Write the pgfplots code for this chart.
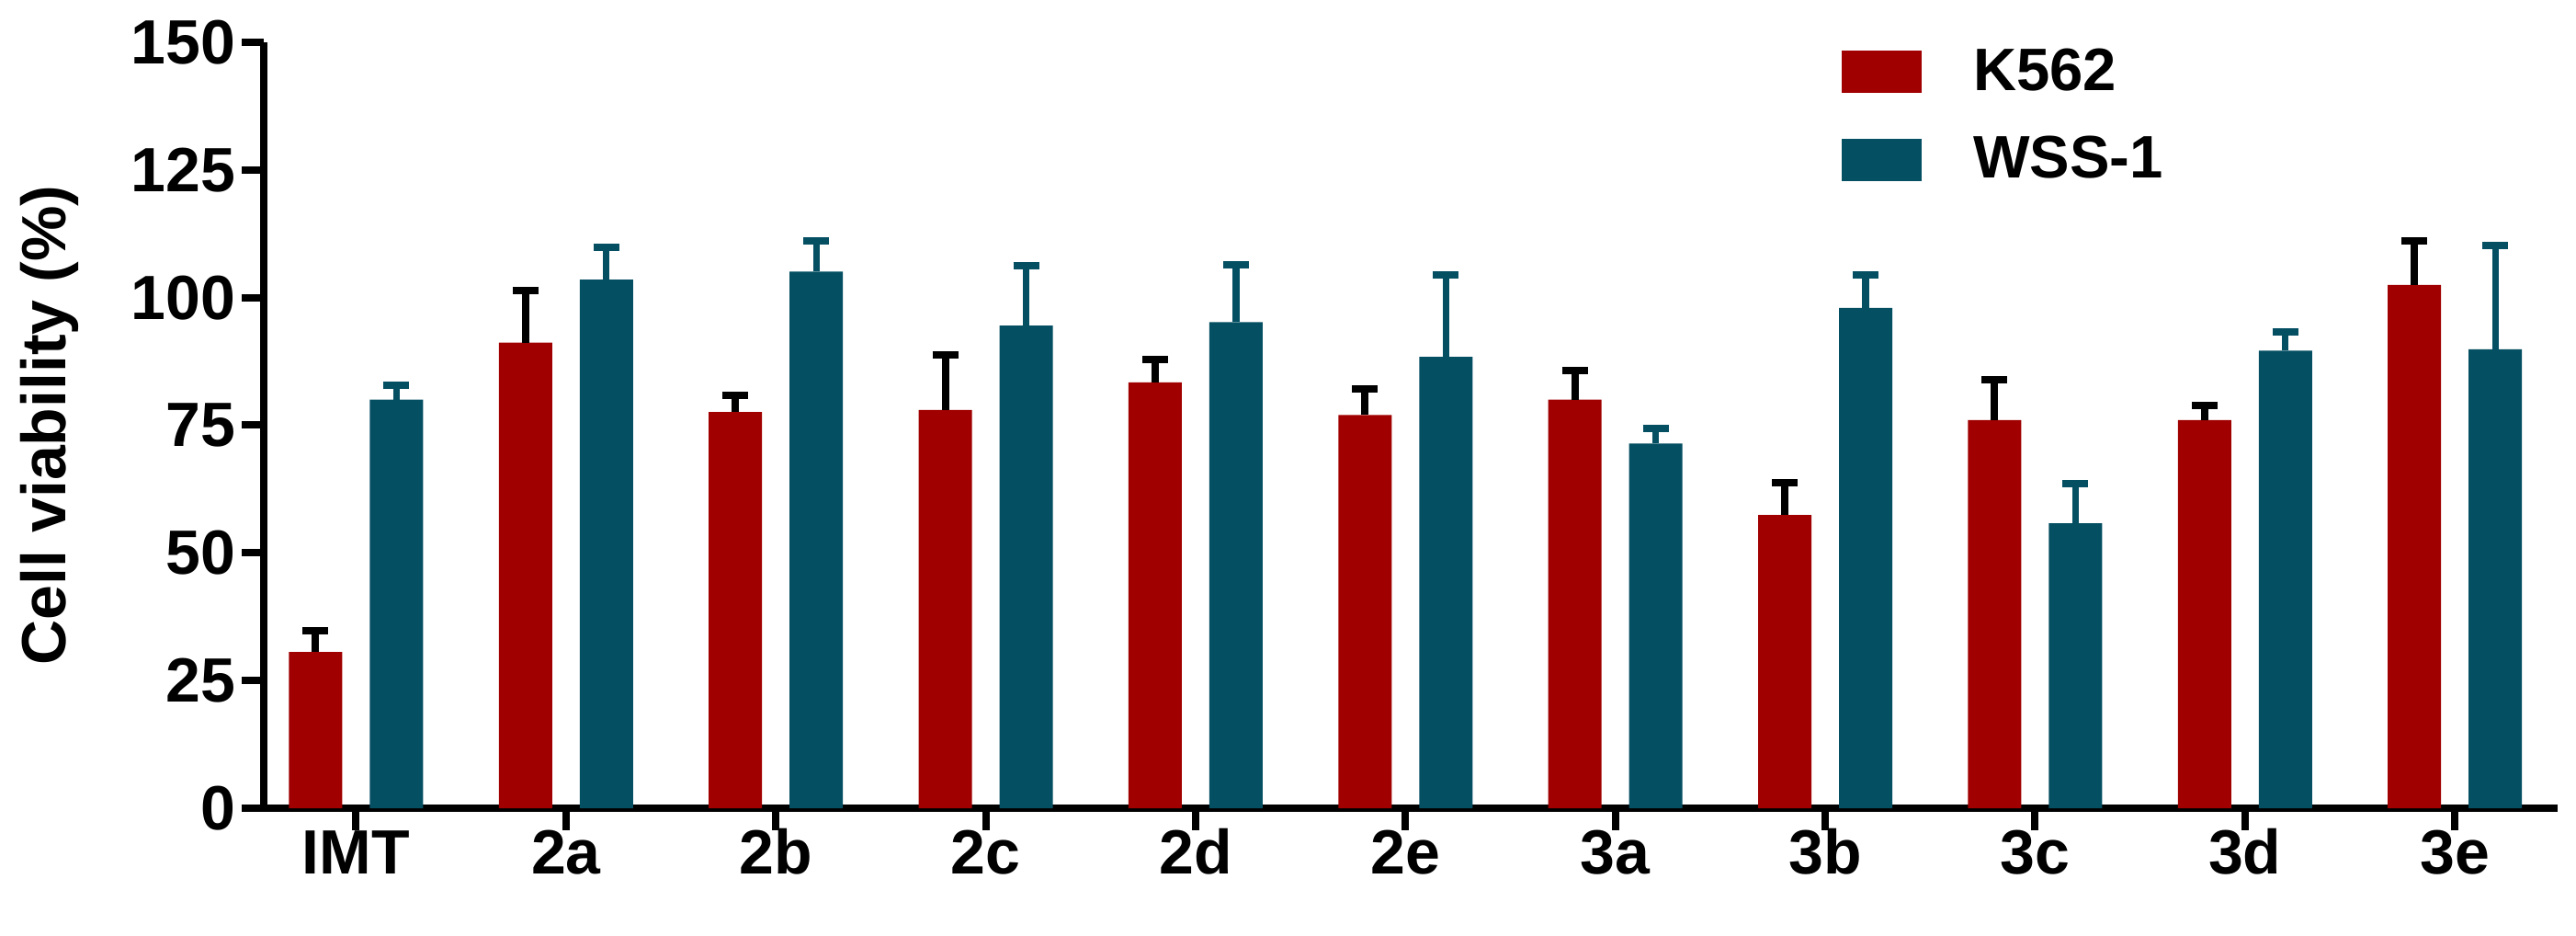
\documentclass[border=0pt]{standalone}
\usepackage{fontspec}
\setmainfont{Liberation Sans}
\usepackage{pgfplots}
\pgfplotsset{compat=1.18}
\definecolor{kred}{RGB}{160,0,0}
\definecolor{wteal}{RGB}{5,79,99}
\begin{document}
\begin{tikzpicture}
\begin{axis}[
  scale only axis,
  width=624pt, height=208.25pt,
  xmin=-0.44, xmax=10.49,
  ymin=0, ymax=150,
  ybar=7.5pt, bar width=14.5pt,
  ytick={0,25,50,75,100,125,150},
  xtick={0,1,2,3,4,5,6,7,8,9,10},
  xticklabels={IMT,2a,2b,2c,2d,2e,3a,3b,3c,3d,3e},
  axis x line=bottom, axis y line=left,
  axis line style={-, line width=2pt, black},
  x axis line style={shorten <=-6pt},
  tick align=outside, tick pos=left,
  major tick length=6pt,
  tick style={line width=2pt, black},
  /pgf/number format/assume math mode=true,
  tick label style={font=\fontsize{17}{20}\selectfont\bfseries},
  yticklabel style={inner sep=1.5pt},
  xticklabel style={inner sep=2pt, yshift=-2pt, text height=0.76em, text depth=0pt},
  every axis y label/.style={at={(rel axis cs:0,0.5)}, rotate=90, anchor=south, inner sep=0pt, yshift=50.25pt,
     font=\fontsize{17}{20}\selectfont\bfseries},
  ylabel={Cell viability (\%)},
  legend style={at={(rel axis cs:0.6877,0.993)}, anchor=north west, draw=none, fill=none,
    inner sep=0pt, row sep=11pt, column sep=14pt,
    font=\fontsize{16.3}{19}\selectfont\bfseries,
    nodes={inner sep=0pt}},
  legend cell align=left,
  clip=false,
]
\addplot[fill=kred, draw=none,
  legend image code/.code={\fill[kred] (0pt,-5.75pt) rectangle (21.75pt,5.75pt);},
  error bars/.cd, y dir=plus, y explicit, error mark=-,
  error bar style={line width=2pt, black},
  error mark options={rotate=90, line width=2pt, mark size=3.5pt, black}]
coordinates {
 (0,30.6) +- (0,4.2)
 (1,91.2) +- (0,10.1)
 (2,77.6) +- (0,3.3)
 (3,78.0) +- (0,10.8)
 (4,83.4) +- (0,4.4)
 (5,77.0) +- (0,5.2)
 (6,80.0) +- (0,5.7)
 (7,57.4) +- (0,6.3)
 (8,76.0) +- (0,8.0)
 (9,76.0) +- (0,2.8)
 (10,102.5) +- (0,8.6)
};
\addlegendentry{K562}
\addplot[fill=wteal, draw=none,
  legend image code/.code={\fill[wteal] (0pt,-5.75pt) rectangle (21.75pt,5.75pt);},
  error bars/.cd, y dir=plus, y explicit, error mark=-,
  error bar style={line width=1.8pt, wteal},
  error mark options={rotate=90, line width=2pt, mark size=3.5pt, wteal}]
coordinates {
 (0,80.0) +- (0,2.8)
 (1,103.5) +- (0,6.4)
 (2,105.1) +- (0,6.0)
 (3,94.5) +- (0,11.7)
 (4,95.2) +- (0,11.2)
 (5,88.4) +- (0,16.0)
 (6,71.4) +- (0,2.9)
 (7,98.0) +- (0,6.5)
 (8,55.8) +- (0,7.8)
 (9,89.6) +- (0,3.7)
 (10,89.9) +- (0,20.3)
};
\addlegendentry{WSS-1}
\coordinate (bl) at (rel axis cs:0,0);
\end{axis}
\path ([xshift=-71.75pt, yshift=-34.5pt]bl) rectangle ([xshift=629pt, yshift=219.75pt]bl);
\end{tikzpicture}
\end{document}
